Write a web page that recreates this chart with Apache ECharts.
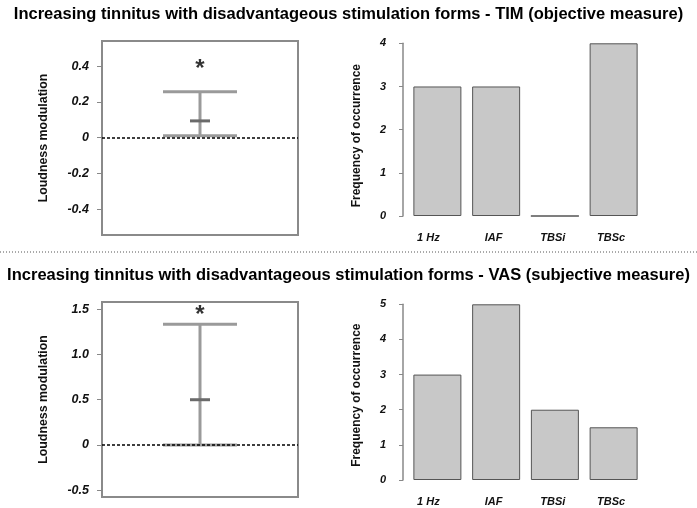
<!DOCTYPE html>
<html>
<head>
<meta charset="utf-8">
<script src="https://cdn.jsdelivr.net/npm/echarts@6/dist/echarts.min.js"></script>
<style>html,body{margin:0;padding:0;background:#fff}#c{width:697px;height:508px}</style>
</head>
<body>
<div id="c"></div>
<script>
// ---- data ----
var titleTop = 'Increasing tinnitus with disadvantageous stimulation forms - TIM (objective measure)';
var titleBottom = 'Increasing tinnitus with disadvantageous stimulation forms - VAS (subjective measure)';
var categories = ['1 Hz', 'IAF', 'TBSi', 'TBSc'];
var freqTIM = [3, 3, 0, 4];
var freqVAS = [3, 5, 2, 1.5];
// error bars: [low, mean, high]
var errTIM = [0.011, 0.094, 0.256];
var errVAS = [0.0, 0.5, 1.335];
var starTIM = 0.4;
var starVAS = 1.46;
var ticksTIM = [-0.4, -0.2, 0, 0.2, 0.4];
var ticksVAS = [-0.5, 0, 0.5, 1.0, 1.5];
var rangeTIM = [-0.543, 0.54];
var rangeVAS = [-0.575, 1.58];

var chart = echarts.init(document.getElementById('c'));
var FONT = '"Liberation Sans", Arial, sans-serif';

function fmt(v) { return v === 0 ? '0' : v.toFixed(1); }

function errRender(params, api) {
  var x = api.value(0);
  var lo = api.coord([x, api.value(1)]);
  var me = api.coord([x, api.value(2)]);
  var hi = api.coord([x, api.value(3)]);
  var gray = {stroke: '#9a9a9a', lineWidth: 3};
  return {
    type: 'group',
    children: [
      {type: 'line', shape: {x1: lo[0], y1: lo[1], x2: hi[0], y2: hi[1]}, style: gray},
      {type: 'line', shape: {x1: hi[0] - 37, y1: hi[1], x2: hi[0] + 37, y2: hi[1]}, style: gray},
      {type: 'line', shape: {x1: lo[0] - 37, y1: lo[1], x2: lo[0] + 37, y2: lo[1]}, style: gray},
      {type: 'line', shape: {x1: me[0] - 10, y1: me[1], x2: me[0] + 10, y2: me[1]}, style: {stroke: '#6a6a6a', lineWidth: 3}}
    ]
  };
}

function lbl(size) {
  return {color: '#111', fontWeight: 'bold', fontStyle: 'italic', fontSize: size, fontFamily: FONT};
}
var nameStyle = {color: '#111', fontWeight: 'bold', fontSize: 12.4, fontFamily: FONT};

function leftY(idx, range, ticks) {
  return {
    type: 'value', gridIndex: idx, min: range[0], max: range[1],
    name: 'Loudness modulation', nameLocation: 'middle', nameGap: 52,
    nameTextStyle: nameStyle,
    axisLine: {show: false},
    axisTick: {show: true, length: 5, customValues: ticks, lineStyle: {color: '#888'}},
    axisLabel: Object.assign({customValues: ticks, margin: 13, formatter: fmt}, lbl(12.5)),
    splitLine: {show: false}
  };
}
function rightY(idx, max, shift) {
  return {
    type: 'value', gridIndex: idx, min: 0, max: max, interval: 1, offset: 5,
    name: 'Frequency of occurrence', nameLocation: 'middle', nameGap: 40,
    nameTextStyle: Object.assign({}, nameStyle, {fontSize: 12, padding: [0, shift, 0, 0]}),
    axisLine: {show: true, lineStyle: {color: '#888', width: 1.5}},
    axisTick: {show: true, length: 4, lineStyle: {color: '#888'}},
    axisLabel: Object.assign({margin: 17}, lbl(11)),
    splitLine: {show: false}
  };
}
function catX(idx) {
  var pads = [18, 5, 4, 5];
  return {
    type: 'category', gridIndex: idx,
    data: categories.map(function (c, i) { return {value: c, textStyle: {padding: [0, pads[i], 0, 0]}}; }),
    axisLine: {show: false}, axisTick: {show: false},
    axisLabel: Object.assign({margin: 16}, lbl(11))
  };
}

function zeroLine() {
  return {
    silent: true, symbol: 'none', label: {show: false},
    lineStyle: {color: '#000', type: [3, 2], width: 1.5},
    data: [{yAxis: 0}]
  };
}

var titleStyle = {fontSize: 16.5, fontWeight: 'bold', color: '#000', fontFamily: FONT};
var option = {
  animation: false,
  backgroundColor: '#fff',
  title: [
    {text: titleTop, left: 'center', top: 1, textStyle: titleStyle},
    {text: titleBottom, left: 'center', top: 262, textStyle: titleStyle}
  ],
  graphic: [
    {type: 'line', shape: {x1: 0, y1: 252, x2: 697, y2: 252}, style: {stroke: '#555', lineWidth: 1, lineDash: [1, 2]}}
  ],
  grid: [
    {left: 102, top: 41, width: 196, height: 194, show: true, borderColor: '#8a8a8a', borderWidth: 2, backgroundColor: 'transparent'},
    {left: 408, top: 43.3, width: 235, height: 172.7},
    {left: 102, top: 302, width: 196, height: 195, show: true, borderColor: '#8a8a8a', borderWidth: 2, backgroundColor: 'transparent'},
    {left: 408, top: 304.3, width: 235, height: 175.7}
  ],
  xAxis: [
    {type: 'value', gridIndex: 0, min: 0, max: 1, show: false},
    catX(1),
    {type: 'value', gridIndex: 2, min: 0, max: 1, show: false},
    catX(3)
  ],
  yAxis: [
    leftY(0, rangeTIM, ticksTIM),
    rightY(1, 4, 12),
    leftY(2, rangeVAS, ticksVAS),
    rightY(3, 5, 6)
  ],
  series: [
    {type: 'custom', xAxisIndex: 0, yAxisIndex: 0, renderItem: errRender,
     data: [[0.5, errTIM[0], errTIM[1], errTIM[2]]], markLine: zeroLine(), z: 3},
    {type: 'scatter', xAxisIndex: 0, yAxisIndex: 0, symbolSize: 1, itemStyle: {color: 'transparent'},
     label: {show: true, formatter: '*', position: 'inside', fontSize: 24, fontWeight: 'bold', color: '#000', offset: [0, 3]},
     data: [[0.5, starTIM]]},
    {type: 'bar', xAxisIndex: 1, yAxisIndex: 1, data: freqTIM, barWidth: 48,
     itemStyle: {color: '#c8c8c8', borderColor: '#555', borderWidth: 1}},
    {type: 'custom', xAxisIndex: 2, yAxisIndex: 2, renderItem: errRender,
     data: [[0.5, errVAS[0], errVAS[1], errVAS[2]]], markLine: zeroLine(), z: 3},
    {type: 'scatter', xAxisIndex: 2, yAxisIndex: 2, symbolSize: 1, itemStyle: {color: 'transparent'},
     label: {show: true, formatter: '*', position: 'inside', fontSize: 24, fontWeight: 'bold', color: '#000', offset: [0, 3]},
     data: [[0.5, starVAS]]},
    {type: 'bar', xAxisIndex: 3, yAxisIndex: 3, data: freqVAS, barWidth: 48,
     itemStyle: {color: '#c8c8c8', borderColor: '#555', borderWidth: 1}}
  ]
};
chart.setOption(option);
</script>
</body>
</html>
